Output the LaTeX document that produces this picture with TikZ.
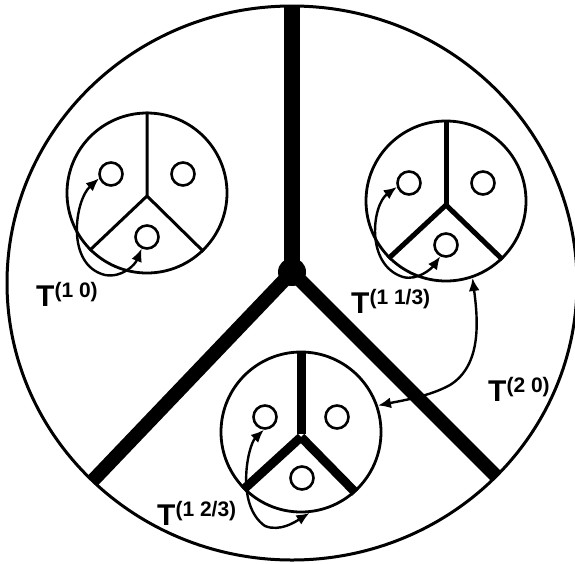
\documentclass[tikz,border=0pt]{standalone}
\usepackage{fontspec}
\setmainfont{Liberation Sans}
\usetikzlibrary{arrows.meta}
\begin{document}
\begin{tikzpicture}[x=1pt,y=-1pt,
  frame/.style={line width=3pt},
  cell/.style={circle,draw,line width=2.8pt,minimum size=160pt,inner sep=0pt},
  pip/.style={circle,draw,line width=2.6pt,minimum size=23pt,inner sep=0pt},
  conn/.style={line width=2.4pt,{Latex[length=13pt,width=11pt]}-{Latex[length=13pt,width=11pt]}},
  lbl/.style={inner sep=0pt,anchor=base west,font=\bfseries},
  bigbar/.style={line width=14pt,line cap=butt}
]
\useasboundingbox (0,0) rectangle (575,563);
% big Y
\begin{scope}
  \clip (292,283) ellipse [x radius=285, y radius=277];
  \coordinate (J) at (292,272);
  \draw[line width=16pt] (J) -- (292,-5);
  \draw[bigbar] (J) -- (80,494);
  \draw[bigbar] (J) -- (512,492);
\end{scope}
\fill (J) circle (14);
\draw[frame] (292,283) ellipse [x radius=285, y radius=277];

% cell 1
\node[cell,fill=white] (c1) at (147,193) {};
\coordinate (j1) at (147,196);
\draw[line width=3pt] (c1.north) -- (j1) (j1) -- (c1.225.5) (j1) -- (c1.314);
\node[pip] (s11) at (111,174) {};
\node[pip] (s12) at (183,174) {};
\node[pip] (s13) at (147,237) {};

% cell 2
\node[cell,fill=white] (c2) at (446,201) {};
\coordinate (j2) at (446,205);
\draw[line width=5pt] (c2.north) -- (j2);
\draw[line width=5pt] (j2) -- (c2.225) (j2) -- (c2.314);
\node[pip] (s21) at (409,183) {};
\node[pip] (s22) at (483,183) {};
\node[pip] (s23) at (446,245) {};

% cell 3
\node[cell,fill=white] (c3) at (301,432) {};
\coordinate (j3) at (301,437);
\draw[line width=9pt] (c3.north) -- (301,434);
\draw[line width=9pt] (j3) -- (c3.225) (j3) -- (c3.312);
\node[pip] (s31) at (265,417) {};
\node[pip] (s32) at (337,417) {};
\node[pip] (s33) at (302,478) {};

% connectors
\draw[conn] (s11.200) .. controls (75,200) and (65,265) .. (105,275)
  .. controls (122,278) and (135,265) .. (s13.245);
\draw[conn] (s21.198) .. controls (372,205) and (365,265) .. (403,277)
  .. controls (418,281) and (432,268) .. (s23.243);
\draw[conn] (s31.265) .. controls (248,445) and (235,505) .. (265,526)
  .. controls (280,532) and (295,522) .. (c3.276);
\draw[conn] (c2.289) .. controls (478,320) and (482,365) .. (450,385)
  .. controls (430,396) and (405,400) .. (c3.19);

% labels
\node[lbl] (l1) at (36,306) {\fontsize{30}{30}\selectfont T\raisebox{9pt}{\fontsize{21}{21}\selectfont (1 0)}};
\node[lbl] (l2) at (351,313) {\fontsize{30}{30}\selectfont T\raisebox{9pt}{\fontsize{21}{21}\selectfont (1 1/3)}};
\node[lbl] (l3) at (157,525) {\fontsize{30}{30}\selectfont T\raisebox{9pt}{\fontsize{21}{21}\selectfont (1 2/3)}};
\node[lbl] (l4) at (488,401) {\fontsize{30}{30}\selectfont T\raisebox{9pt}{\fontsize{21}{21}\selectfont (2 0)}};
\end{tikzpicture}
\end{document}
